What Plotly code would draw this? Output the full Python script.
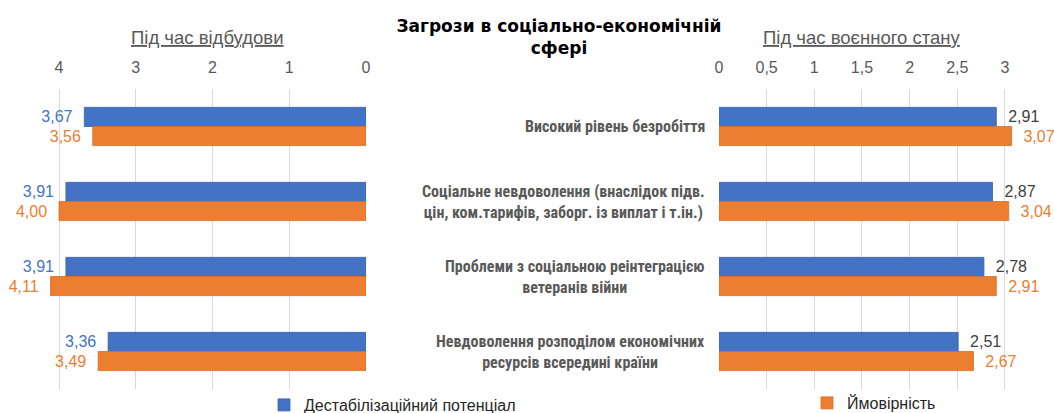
import plotly.graph_objects as go

# ---- data ----
categories = [
    "Високий рівень безробіття",
    "Соціальне невдоволення (внаслідок підв.<br>цін, ком.тарифів, заборг. із виплат і т.ін.)",
    "Проблеми з соціальною реінтеграцією<br>ветеранів війни",
    "Невдоволення розподілом економічних<br>ресурсів всередині країни",
]
series_names = ["Дестабілізаційний потенціал", "Ймовірність"]
recon_potential = [3.67, 3.91, 3.91, 3.36]
recon_probability = [3.56, 4.00, 4.11, 3.49]
war_potential = [2.91, 2.87, 2.78, 2.51]
war_probability = [3.07, 3.04, 2.91, 2.67]
left_tick_vals = [0, 1, 2, 3, 4]
left_tick_text = ["0", "1", "2", "3", "4"]
right_tick_vals = [0, 0.5, 1, 1.5, 2, 2.5, 3]
right_tick_text = ["0", "0,5", "1", "1,5", "2", "2,5", "3"]
title_text = "Загрози в соціально-економічній<br>сфері"
left_title = "Під час відбудови"
right_title = "Під час воєнного стану"

BLUE = "#4472C4"
ORANGE = "#ED7D31"
GRAY = "#595959"
GRID = "#D9D9D9"
FONT = "Liberation Sans, Arial, sans-serif"
NARROW = "Roboto Condensed, Liberation Sans Narrow, Liberation Sans, sans-serif"
NB = "\u00a0\u00a0"


def fmt(vals, left):
    out = [f"{v:.2f}".replace(".", ",") for v in vals]
    return [s + NB if left else NB + s for s in out]


W, H = 1054, 413

fig = go.Figure()

fig.add_trace(go.Bar(y=categories, x=recon_potential, orientation="h",
                     name=series_names[0], marker=dict(color=BLUE, line=dict(color="#3A62AD", width=0.8)),
                     text=fmt(recon_potential, True), textposition="outside",
                     textfont=dict(color=BLUE, size=16, family=FONT),
                     xaxis="x", yaxis="y", legend="legend", showlegend=True, cliponaxis=False))
fig.add_trace(go.Bar(y=categories, x=recon_probability, orientation="h",
                     name=series_names[1], marker=dict(color=ORANGE, line=dict(color="#D86C24", width=0.8)),
                     text=fmt(recon_probability, True), textposition="outside",
                     textfont=dict(color=ORANGE, size=16, family=FONT),
                     xaxis="x", yaxis="y", showlegend=False, cliponaxis=False))
fig.add_trace(go.Bar(y=categories, x=war_potential, orientation="h",
                     name=series_names[0], marker=dict(color=BLUE, line=dict(color="#3A62AD", width=0.8)),
                     text=fmt(war_potential, False), textposition="outside",
                     textfont=dict(color="#404040", size=16, family=FONT),
                     xaxis="x2", yaxis="y", showlegend=False, cliponaxis=False))
fig.add_trace(go.Bar(y=categories, x=war_probability, orientation="h",
                     name=series_names[1], marker=dict(color=ORANGE, line=dict(color="#D86C24", width=0.8)),
                     text=fmt(war_probability, False), textposition="outside",
                     textfont=dict(color=ORANGE, size=16, family=FONT),
                     xaxis="x2", yaxis="y", legend="legend2", showlegend=True, cliponaxis=False))

# pixel geometry (as fractions of the 1054x413 canvas)
left_zero_px, left_unit_px = 366, 76.75
right_zero_px, right_unit_px = 719, 95.3
left_max, right_max = 4.5, 3.5
plot_top_px, plot_bot_px = 89, 389

fig.update_layout(
    autosize=True,
    margin=dict(l=0, r=0, t=0, b=0, autoexpand=False),
    paper_bgcolor="white", plot_bgcolor="white",
    barmode="group", bargap=0.49, bargroupgap=0,
    font=dict(family=FONT, color=GRAY, size=14),
    xaxis=dict(
        domain=[(left_zero_px - left_max * left_unit_px) / W, left_zero_px / W],
        range=[left_max, 0], side="top", anchor="y",
        tickvals=left_tick_vals, ticktext=left_tick_text,
        showgrid=True, gridcolor=GRID, gridwidth=1, zeroline=False,
        showline=False, ticks="", ticklabelstandoff=12,
        tickfont=dict(size=16, color=GRAY, family=FONT),
    ),
    xaxis2=dict(
        domain=[right_zero_px / W, (right_zero_px + right_max * right_unit_px) / W],
        range=[0, right_max], side="top", anchor="y",
        tickvals=right_tick_vals, ticktext=right_tick_text,
        showgrid=True, gridcolor=GRID, gridwidth=1, zeroline=False,
        showline=False, ticks="", ticklabelstandoff=12,
        tickfont=dict(size=16, color=GRAY, family=FONT),
    ),
    yaxis=dict(
        domain=[1 - plot_bot_px / H, 1 - plot_top_px / H],
        autorange="reversed", showticklabels=False, showgrid=False,
        zeroline=False, showline=False, ticks="",
    ),
    title=dict(text="<b>" + title_text + "</b>", x=559 / W, xanchor="center",
               y=1 - 32 / H, yanchor="middle", pad=dict(t=0, b=0, l=0, r=0),
               font=dict(family="DejaVu Sans", size=17, color="black")),
    legend=dict(x=264 / W, y=8 / H, xanchor="left", yanchor="middle",
                font=dict(size=16, color="#262626", family=FONT), bgcolor="rgba(0,0,0,0)"),
    legend2=dict(x=807 / W, y=10 / H, xanchor="left", yanchor="middle",
                 font=dict(size=16, color="#262626", family=FONT), bgcolor="rgba(0,0,0,0)"),
)

annotations = []
for c in categories:
    annotations.append(dict(text="<b>" + c + "</b>", x=707 / W, xref="paper", y=c, yref="y",
                            xanchor="right", yanchor="middle", align="center", showarrow=False,
                            font=dict(size=16, color=GRAY, family=NARROW)))
annotations.append(dict(text="<u>" + left_title + "</u>", x=207 / W, xref="paper",
                        y=1 - 38 / H, yref="paper", xanchor="center", yanchor="middle",
                        showarrow=False, font=dict(size=18.5, color=GRAY, family=FONT)))
annotations.append(dict(text="<u>" + right_title + "</u>", x=862 / W, xref="paper",
                        y=1 - 38 / H, yref="paper", xanchor="center", yanchor="middle",
                        showarrow=False, font=dict(size=18.5, color=GRAY, family=FONT)))
fig.update_layout(annotations=annotations)

post = (
    "var de=document.documentElement;de.style.height='100%';de.style.overflow='hidden';"
    "var b=document.body;b.style.margin='0';b.style.height='100%';b.style.overflow='hidden';"
    "var gd=document.getElementById('{plot_id}');gd.parentElement.style.height='100%';"
    "gd.style.height='100%';gd.style.width='100%';"
    "return Plotly.Plots.resize(gd);"
)

fig.write_html("out.html", default_width="100%", default_height="100%",
               config={"displayModeBar": False, "responsive": True},
               post_script=post)
